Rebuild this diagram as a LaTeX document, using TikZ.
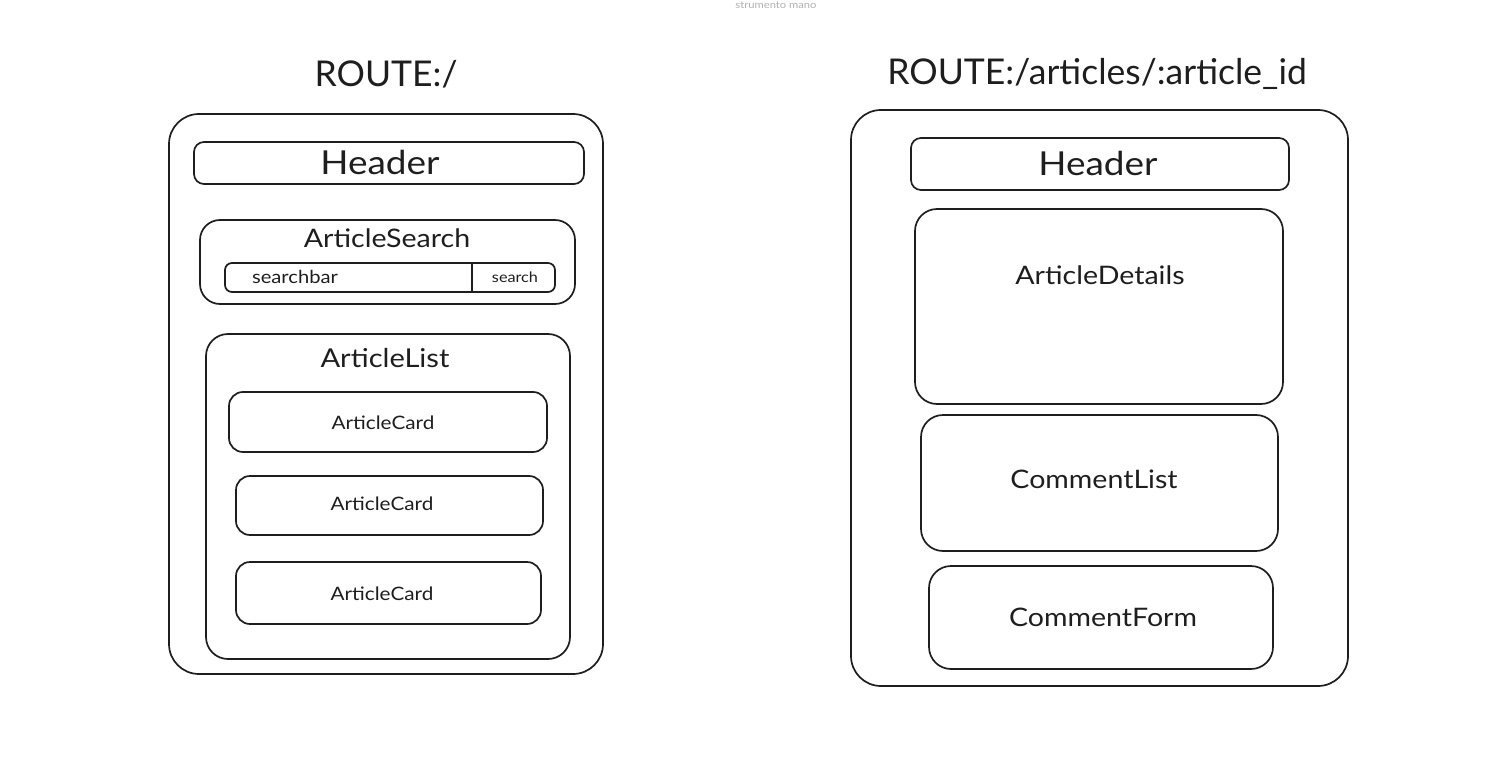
\documentclass[tikz,border=0pt]{standalone}
\usepackage{fontspec}
\setmainfont{Lato}
\newfontfamily\wide{Lato}[FakeStretch=1.12]
\definecolor{inkc}{HTML}{1E1E1E}
\definecolor{notec}{HTML}{B0B0B0}
\tikzset{
  box/.style={draw=inkc, line width=1.7pt, rounded corners=#1, inner sep=0pt},
  box/.default=16pt,
  lbl/.style={text=inkc, inner sep=0pt, anchor=center},
}
\newcommand{\fs}[1]{\fontsize{#1pt}{#1pt}\selectfont}
\newcommand{\ws}[1]{\wide\fontsize{#1pt}{#1pt}\selectfont}
\begin{document}
\begin{tikzpicture}[x=1pt,y=-1pt]
\useasboundingbox (0,0) rectangle (1490,770);
% note
\node[lbl, text=notec, font=\ws{10}] (note) at (776,5) {strumento mano};
% ---------- left ----------
\node[lbl, font=\fs{35.5}] (t1) at (386,74) {ROUTE:/};
\node[box=30pt, minimum width=434pt, minimum height=560pt] (outL) at (386,394) {};
\node[box=10pt, minimum width=390pt, minimum height=42pt] (hdrL) at (389,163) {};
\node[lbl, font=\ws{33}] (hdrLt) at (380,162) {Header};
\node[box=20pt, minimum width=375pt, minimum height=84pt] (srch) at (387.5,262) {};
\node[lbl, font=\ws{25.5}] (srcht) at (387,238) {ArticleSearch};
\node[box=7pt, minimum width=330pt, minimum height=29pt] (sbar) at (390,277.5) {};
\coordinate (divT) at (472,263);
\coordinate (divB) at (472,292);
\draw[draw=inkc, line width=1.5pt] (divT) -- (divB);
\node[lbl, font=\ws{18}] (sbart) at (295,277) {searchbar};
\node[lbl, font=\ws{14.5}] (sbtn) at (515,277) {search};
\node[box=22pt, minimum width=364pt, minimum height=325pt] (alist) at (388,496.5) {};
\node[lbl, font=\ws{26}] (alistt) at (385,358) {ArticleList};
\node[box=14pt, minimum width=318pt, minimum height=60pt] (c1) at (388,422) {};
\node[lbl, font=\ws{18.5}] (c1t) at (383,423) {ArticleCard};
\node[box=14pt, minimum width=307pt, minimum height=59pt] (c2) at (389.5,505.5) {};
\node[lbl, font=\ws{18.5}] (c2t) at (382,504) {ArticleCard};
\node[box=14pt, minimum width=305pt, minimum height=62pt] (c3) at (388.5,593) {};
\node[lbl, font=\ws{18.5}] (c3t) at (382,594) {ArticleCard};
% ---------- right ----------
\node[lbl, font=\fs{35.5}] (t2) at (1097,74) {ROUTE:/articles/:article\_id};
\node[box=30pt, minimum width=497pt, minimum height=576pt] (outR) at (1099.5,398) {};
\node[box=10pt, minimum width=378pt, minimum height=52pt] (hdrR) at (1100,164) {};
\node[lbl, font=\ws{33}] (hdrRt) at (1098,163) {Header};
\node[box=22pt, minimum width=368pt, minimum height=195pt] (det) at (1099,306.5) {};
\node[lbl, font=\ws{25.5}] (dett) at (1100,275) {ArticleDetails};
\node[box=22pt, minimum width=357pt, minimum height=136pt] (cl) at (1099.5,483) {};
\node[lbl, font=\ws{25.5}] (clt) at (1094,479) {CommentList};
\node[box=22pt, minimum width=344pt, minimum height=103pt] (cf) at (1101,617.5) {};
\node[lbl, font=\ws{25.5}] (cft) at (1103,617) {CommentForm};
\end{tikzpicture}
\end{document}
